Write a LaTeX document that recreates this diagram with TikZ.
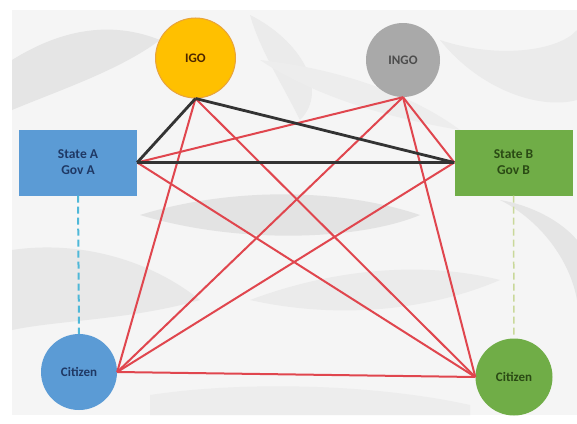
\documentclass[tikz,border=0pt]{standalone}
\usepackage{fontspec}
\setmainfont{Carlito}
\definecolor{igofill}{HTML}{FFC000}
\definecolor{igodraw}{HTML}{E8A33C}
\definecolor{ingofill}{HTML}{A9A9A9}
\definecolor{bluefill}{HTML}{5B9BD5}
\definecolor{greenfill}{HTML}{70AD47}
\definecolor{bluetext}{HTML}{1F3864}
\definecolor{greentext}{HTML}{2A4A14}
\definecolor{redline}{HTML}{E0464E}
\definecolor{blackline}{HTML}{333333}
\definecolor{dashblue}{HTML}{4FB8D8}
\definecolor{dashgreen}{HTML}{C9D89A}
\tikzset{
  circ/.style={circle, minimum size=#1, inner sep=0pt, font=\fontsize{13}{15}\selectfont\bfseries},
  boxnode/.style={rectangle, minimum width=118pt, minimum height=66pt, inner sep=0pt, align=center, font=\fontsize{13.5}{16}\selectfont\bfseries},
  redlink/.style={draw=redline, line width=2pt},
  blacklink/.style={draw=blackline, line width=2.8pt},
}
\begin{document}
\begin{tikzpicture}[x=1pt, y=-1pt]
\useasboundingbox (0,0) rectangle (577,423);
% background crumpled paper
\fill[white] (0,0) rectangle (577,423);
\fill[black!4] (12,10) rectangle (577,415);
\fill[black!10] (12,60) .. controls (60,30) and (110,20) .. (160,40) .. controls (120,70) and (60,90) .. (12,110) -- cycle;
\fill[black!8] (250,15) .. controls (300,40) and (330,90) .. (300,120) .. controls (280,80) and (260,50) .. (250,15) -- cycle;
\fill[black!8] (440,40) .. controls (500,60) and (560,50) .. (577,30) -- (577,100) .. controls (540,110) and (480,90) .. (440,40) -- cycle;
\fill[black!11] (140,215) .. controls (220,190) and (330,185) .. (420,215) .. controls (360,240) and (240,245) .. (140,215) -- cycle;
\fill[black!9] (12,250) .. controls (80,240) and (150,260) .. (200,300) .. controls (130,320) and (60,320) .. (12,330) -- cycle;
\fill[black!8] (250,300) .. controls (330,270) and (420,260) .. (500,280) .. controls (430,310) and (340,320) .. (250,300) -- cycle;
\fill[black!10] (500,200) .. controls (540,220) and (570,260) .. (577,300) -- (577,240) .. controls (560,220) and (530,205) .. (500,200) -- cycle;
\fill[black!7] (150,395) .. controls (250,380) and (380,385) .. (470,405) -- (470,415) -- (150,415) -- cycle;
\fill[black!7] (260,60) .. controls (350,70) and (420,100) .. (460,130) .. controls (400,120) and (320,100) .. (260,60) -- cycle;

% nodes
\node[circ=80pt, fill=igofill, draw=igodraw, line width=1pt, text=black!70!orange] (igo) at (195.5,58) {IGO};
\node[circ=74pt, fill=ingofill, text=black!70] (ingo) at (403,60) {INGO};
\node[boxnode, fill=bluefill, text=bluetext] (sa) at (78,162.5) {State A\\Gov A};
\node[boxnode, fill=greenfill, text=greentext] (sb) at (513.5,162.5) {State B\\Gov B};
\node[circ=76pt, fill=bluefill, text=bluetext] (ca) at (79,372) {Citizen};
\node[circ=77pt, fill=greenfill, text=greentext] (cb) at (514,377) {Citizen};

% dashed links
\draw[dashblue, line width=2pt, dash pattern=on 7pt off 4pt] (sa.south) -- (ca.north);
\draw[dashgreen, line width=1.5pt, dash pattern=on 7pt off 4pt] (sb.south) -- (cb.north);

% anchor points
\coordinate (igoS) at (igo.south);
\coordinate (ingoS) at (ingo.south);
\coordinate (saE) at (sa.east);
\coordinate (sbW) at (sb.west);
\coordinate (caE) at (ca.east);
\coordinate (cbW) at (cb.west);

% red links
\draw[redlink] (ingoS) -- (saE);
\draw[redlink] (ingoS) -- (sbW);
\draw[redlink] (ingoS) -- (caE);
\draw[redlink] (ingoS) -- (cbW);
\draw[redlink] (igoS) -- (caE);
\draw[redlink] (igoS) -- (cbW);
\draw[redlink] (saE) -- (cbW);
\draw[redlink] (sbW) -- (caE);
\draw[redlink] (caE) -- (cbW);

% black links
\draw[blacklink] (igoS) -- (saE);
\draw[blacklink] (igoS) -- (sbW);
\draw[blacklink] (saE) -- (sbW);
\end{tikzpicture}
\end{document}
